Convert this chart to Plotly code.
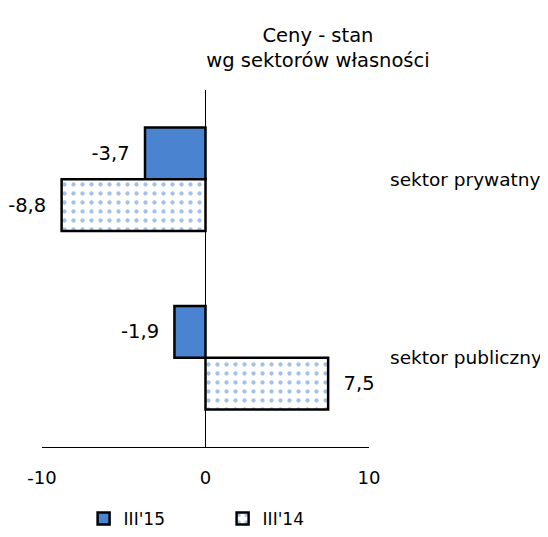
import plotly.graph_objects as go

categories = ["sektor prywatny", "sektor publiczny"]
series_names = ["III'15", "III'14"]
values_2015 = [-3.7, -1.9]
values_2014 = [-8.8, 7.5]

blue = "#4a83d0"
font = "DejaVu Sans"
pad = "\u00a0\u00a0"


def label(v):
    s = f"{v:.1f}".replace(".", ",")
    return s + pad if v < 0 else pad + s


fig = go.Figure()
fig.add_trace(go.Bar(
    y=categories, x=values_2015, name=series_names[0], orientation="h",
    marker=dict(color=blue, line=dict(color="black", width=2.5)),
    text=[label(v) for v in values_2015],
    textposition="outside", textfont=dict(size=19.5, color="black"),
    cliponaxis=False,
))
fig.add_trace(go.Bar(
    y=categories, x=values_2014, name=series_names[1], orientation="h",
    marker=dict(color="white", line=dict(color="black", width=2.5),
                pattern=dict(shape=".", fgcolor=blue, bgcolor="white", size=9, solidity=0.18)),
    text=[label(v) for v in values_2014],
    textposition="outside", textfont=dict(size=19.5, color="black"),
    cliponaxis=False,
))

# page body adds an 8px offset, so the figure is shrunk and margins compensated
fig.update_layout(
    width=540, height=529,
    barmode="group", bargap=0.42, bargroupgap=0,
    plot_bgcolor="white", paper_bgcolor="white",
    font=dict(family=font, size=18, color="black"),
    margin=dict(l=34, r=179, t=82, b=90, autoexpand=False),
    title=dict(text="Ceny - stan<br>wg sektorów własności", x=0.574, xanchor="center",
               y=0.936, yanchor="top", font=dict(size=19.5)),
    xaxis=dict(range=[-10, 10], tickvals=[-10, 0, 10], ticktext=["-10", "0", "10"],
               showgrid=False, automargin=False,
               zeroline=True, zerolinecolor="black", zerolinewidth=1,
               showline=True, linecolor="black", linewidth=1,
               ticks="", tickfont=dict(size=18), ticklabelstandoff=14),
    yaxis=dict(autorange="reversed", side="right", showgrid=False, showline=False,
               automargin=False, zeroline=False, ticks="", ticklabelstandoff=20,
               tickfont=dict(size=18.5)),
    legend=dict(orientation="h", xref="container", yref="container",
                x=0.14, xanchor="left", y=0.068, yanchor="top",
                font=dict(size=17), itemwidth=30, traceorder="normal",
                entrywidth=94, entrywidthmode="pixels"),
    showlegend=True,
)

fig.write_html("out.html")
